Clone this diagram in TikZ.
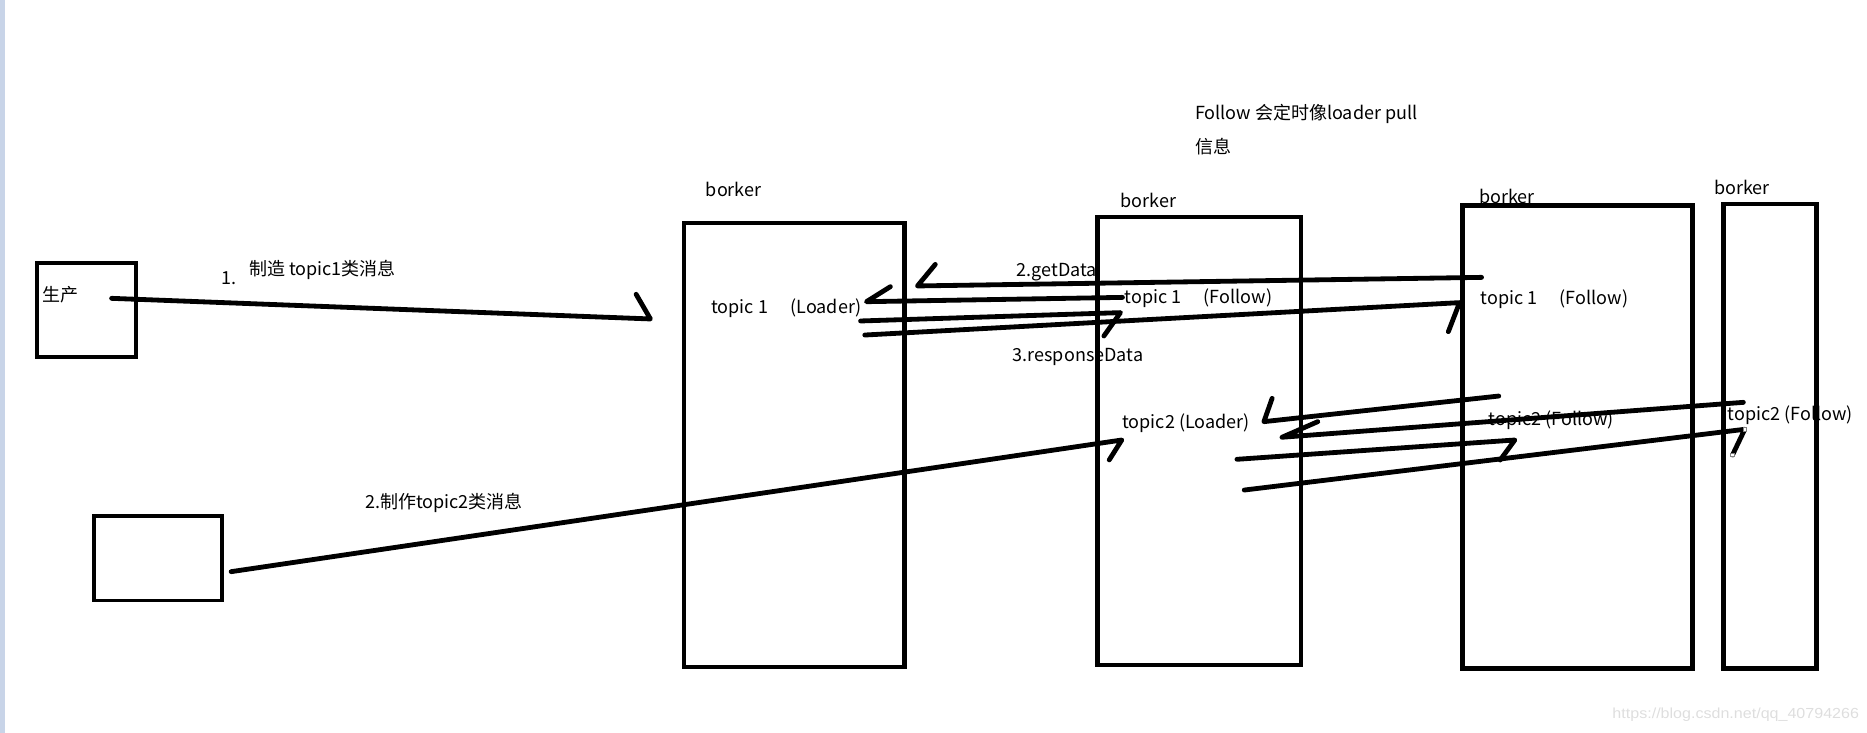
\documentclass[tikz,border=0pt]{standalone}
\usepackage{fontspec}
\usepackage{graphicx}
\setmainfont{Noto Sans CJK SC}
\newfontfamily\wmfont{Liberation Sans}
\definecolor{stripc}{RGB}{200,212,232}
\definecolor{wmgray}{RGB}{222,222,222}
\begin{document}
\begin{tikzpicture}[x=0.02cm,y=-0.02cm,
  lbl/.style={anchor=west,inner sep=0pt,outer sep=0pt,font=\fontsize{8.6}{10}\selectfont},
  smallbox/.style={draw=black,line width=1.9pt,inner sep=0pt,outer sep=0pt},
  brokerbox/.style={draw=black,line width=2.1pt,inner sep=0pt,outer sep=0pt},
  pen/.style={draw=black,line width=2.3pt,line cap=round,line join=round},
  handle/.style={draw=gray,fill=white,line width=0.4pt,minimum size=0.06cm,inner sep=0pt}]
\useasboundingbox (0,0) rectangle (1567,615);
\fill[stripc] (0,0) rectangle (4.2,615);
% texts
\node[lbl] (tsc) at (35.6,247.7) {生产};
\node[lbl] (tone) at (186,233.5) {1.};
\node[lbl] (tmk1) at (209,226.3) {制造 topic1类消息};
\node[lbl] (tmk2) at (306.5,421.8) {2.制作topic2类消息};
\node[lbl] (tbk1) at (592.5,159) {borker};
\node[lbl] (tbk2) at (940.4,168.6) {borker};
\node[lbl] (tbk3) at (1241.4,164.5) {borker};
\node[lbl] (tbk4) at (1438.6,157) {borker};
\node[lbl] (tl1) at (597,259) {topic 1\hspace{1.25em}(Loader)};
\node[lbl] (tf21) at (943.9,250) {topic 1\hspace{1.25em}(Follow)};
\node[lbl] (tf31) at (1242.7,250.7) {topic 1\hspace{1.25em}(Follow)};
\node[lbl] (tl2) at (942,355) {topic2 (Loader)};
\node[lbl] (tf32) at (1249.6,352.5) {topic2 (Follow)};
\node[lbl] (tf42) at (1450,348.3) {topic2 (Follow)};
\node[lbl] (tget) at (853.4,228.7) {2.getData};
\node[lbl] (tresp) at (850,300) {3.responseData};
\node[lbl] (tnote1) at (1003,96) {Follow 会定时像loader pull};
\node[lbl] (tnote2) at (1003,123) {信息};
\node[anchor=west,inner sep=0pt,text=wmgray] (twm) at (1353,600)
  {\resizebox*{4.14cm}{0.228cm}{\wmfont https://blog.csdn.net/qq\_40794266}};
% boxes
\node[smallbox,minimum width=1.66cm,minimum height=1.58cm] (p1) at (72.5,260.5) {};
\node[smallbox,minimum width=2.14cm,minimum height=1.42cm] (p2) at (132.5,468.5) {};
\node[brokerbox,minimum width=3.70cm,minimum height=7.46cm] (b1) at (666.5,373.5) {};
\node[brokerbox,minimum width=3.42cm,minimum height=7.52cm] (b2) at (1006.5,370) {};
\node[brokerbox,minimum width=3.86cm,minimum height=7.77cm] (b3) at (1324,366.75) {};
\node[brokerbox,minimum width=1.56cm,minimum height=7.80cm] (b4) at (1485.5,366) {};
% connector ends
\coordinate (a1s) at (93.7,250.4);   \coordinate (a1e) at (545.9,267.7);
\coordinate (a2s) at (194,479.8);    \coordinate (a2e) at (941.5,369.3);
\coordinate (g1s) at (1243.5,232.8); \coordinate (g1e) at (770,240);
\coordinate (g2s) at (942.1,249.6);  \coordinate (g2e) at (727.2,253.2);
\coordinate (r1s) at (722.3,269.4);  \coordinate (r1e) at (940.4,262.4);
\coordinate (r2s) at (725.8,281.2);  \coordinate (r2e) at (1225,254);
\coordinate (las) at (1257.9,332.4); \coordinate (lae) at (1060.8,353.9);
\coordinate (lbs) at (1463.2,337.7); \coordinate (lbe) at (1076,367);
\coordinate (lcs) at (1038.2,385.5); \coordinate (lce) at (1271.4,369.3);
\coordinate (lds) at (1044.3,411.3); \coordinate (lde) at (1464.4,360.3);
% connectors
\draw[pen] (a1s) -- (a1e) -- ++(-12,-20.7);
\draw[pen] (a2s) -- (a2e) -- ++(-10.5,16.7);
\draw[pen] (g1s) -- (g1e) -- ++(15,-18.1);
\draw[pen] (g2s) -- (g2e) -- ++(20.1,-12.6);
\draw[pen] (r1s) -- (r1e) -- ++(-13.9,19.6);
\draw[pen] (r2s) -- (r2e) -- ++(-9.4,24.4);
\draw[pen] (las) -- (lae) -- ++(6.9,-19.6);
\draw[pen] (lbs) -- (lbe) -- ++(30,-13.1);
\draw[pen] (lcs) -- (lce) -- ++(-12.3,16.8);
\draw[pen] (lds) -- (lde) -- ++(-10.3,21.6) coordinate (ldh);
\node[handle] (h1) at (lde) {};
\node[handle] (h2) at (ldh) {};
\end{tikzpicture}
\end{document}
